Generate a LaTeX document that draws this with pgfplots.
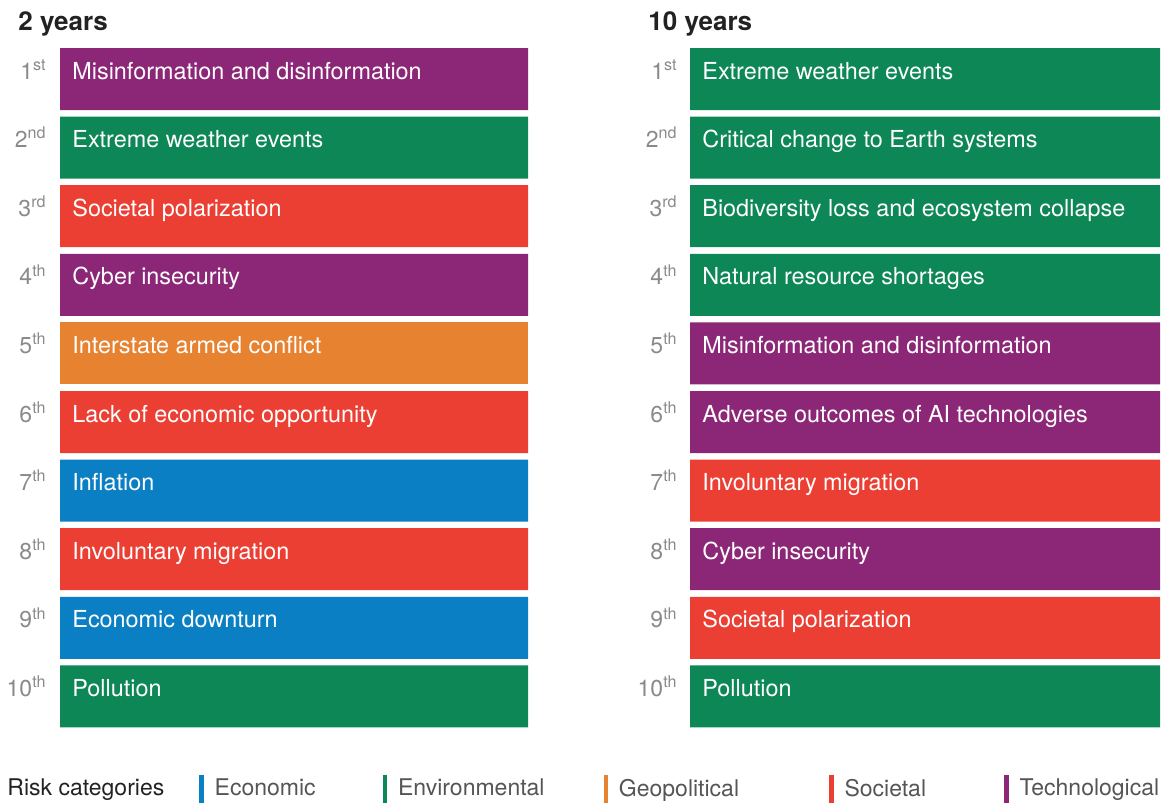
\documentclass[border=0pt]{standalone}
\usepackage{pgfplots}
\pgfplotsset{compat=1.18}
\usepackage{pgfplotstable}
\usepackage{fontspec}
\setmainfont{TeX Gyre Heros}
\definecolor{cEco}{HTML}{0B7FC3}
\definecolor{cEnv}{HTML}{0D8755}
\definecolor{cGeo}{HTML}{E78231}
\definecolor{cSoc}{HTML}{EB3F34}
\definecolor{cTech}{HTML}{8B2776}
\definecolor{rankgray}{HTML}{8A8A8A}
\definecolor{titlecol}{HTML}{222222}
\definecolor{leggray}{HTML}{555555}

\pgfplotstableread[col sep=comma]{
y,label
1,Misinformation and disinformation
2,Extreme weather events
3,Societal polarization
4,Cyber insecurity
5,Interstate armed conflict
6,Lack of economic opportunity
7,Inflation
8,Involuntary migration
9,Economic downturn
10,Pollution
}\leftlabels

\pgfplotstableread[col sep=comma]{
y,label
1,Extreme weather events
2,Critical change to Earth systems
3,Biodiversity loss and ecosystem collapse
4,Natural resource shortages
5,Misinformation and disinformation
6,Adverse outcomes of AI technologies
7,Involuntary migration
8,Cyber insecurity
9,Societal polarization
10,Pollution
}\rightlabels

\pgfplotsset{
  riskaxis/.style={
    height=343pt, scale only axis,
    xmin=0, xmax=1, ymin=0.5, ymax=10.5, y dir=reverse,
    axis line style={draw=none}, major tick length=0pt,
    xtick=\empty, ytick={1,...,10}, clip=false,
    yticklabels={1\textsuperscript{st},2\textsuperscript{nd},3\textsuperscript{rd},4\textsuperscript{th},5\textsuperscript{th},6\textsuperscript{th},7\textsuperscript{th},8\textsuperscript{th},9\textsuperscript{th},10\textsuperscript{th}},
    yticklabel style={anchor=base east, inner sep=0pt, text=rankgray, font=\fontsize{11.5}{13}\selectfont},
    title style={at={(axis description cs:0,1)}, anchor=base west, inner sep=0pt,
      xshift=-21pt, yshift=1.35pt, text=titlecol, font=\bfseries\fontsize{13}{15}\selectfont},
  },
  catbar/.style={xbar, bar width=31pt, bar shift=0pt, fill=#1, draw=none,
    legend image code/.code={\fill[#1] (0pt,-7pt) rectangle (2.2pt,7pt);}},
  barlabels/.style={draw=none, mark=none, forget plot, nodes near coords,
    point meta=explicit symbolic,
    nodes near coords style={anchor=base west, inner sep=0pt, xshift=6pt,
      text=white, font=\fontsize{11.7}{13}\selectfont}},
}

\begin{document}
\begin{tikzpicture}
\path[use as bounding box] (0pt,0pt) rectangle (583pt,-401.5pt);

\begin{axis}[riskaxis, width=234pt, at={(30pt,-22.35pt)}, anchor=north west,
  yticklabel style={xshift=-6.5pt},
  title={2 years},
  legend columns=6,
  legend style={at={(-0.1367,-0.085)}, anchor=west, draw=none, fill=none,
    inner sep=0pt, font=\fontsize{11.5}{13}\selectfont, text=leggray,
    cells={anchor=west},
    /tikz/every odd column/.append style={column sep=3.5pt},
    /tikz/every even column/.append style={column sep=28.5pt}},
]
\addlegendimage{empty legend}
\addlegendentry{\textcolor{titlecol}{Risk categories}\hspace*{-13pt}}
\addplot[catbar=cEco] coordinates {(1,7) (1,9)};
\addlegendentry{Economic\hspace*{3pt}}
\addplot[catbar=cEnv] coordinates {(1,2) (1,10)};
\addlegendentry{Environmental\hspace*{-1pt}}
\addplot[catbar=cGeo] coordinates {(1,5)};
\addlegendentry{Geopolitical\hspace*{14.5pt}}
\addplot[catbar=cSoc] coordinates {(1,3) (1,6) (1,8)};
\addlegendentry{Societal\hspace*{8.5pt}}
\addplot[catbar=cTech] coordinates {(1,1) (1,4)};
\addlegendentry{Technological}
\addplot[barlabels] table[x expr=0, y=y, meta=label] {\leftlabels};
\end{axis}

\begin{axis}[riskaxis, width=235pt, at={(345pt,-22.35pt)}, anchor=north west,
  yticklabel style={xshift=-6pt},
  title={10 years},
]
\addplot[catbar=cEnv] coordinates {(1,1) (1,2) (1,3) (1,4) (1,10)};
\addplot[catbar=cSoc] coordinates {(1,7) (1,9)};
\addplot[catbar=cTech] coordinates {(1,5) (1,6) (1,8)};
\addplot[barlabels] table[x expr=0, y=y, meta=label] {\rightlabels};
\end{axis}
\end{tikzpicture}
\end{document}
